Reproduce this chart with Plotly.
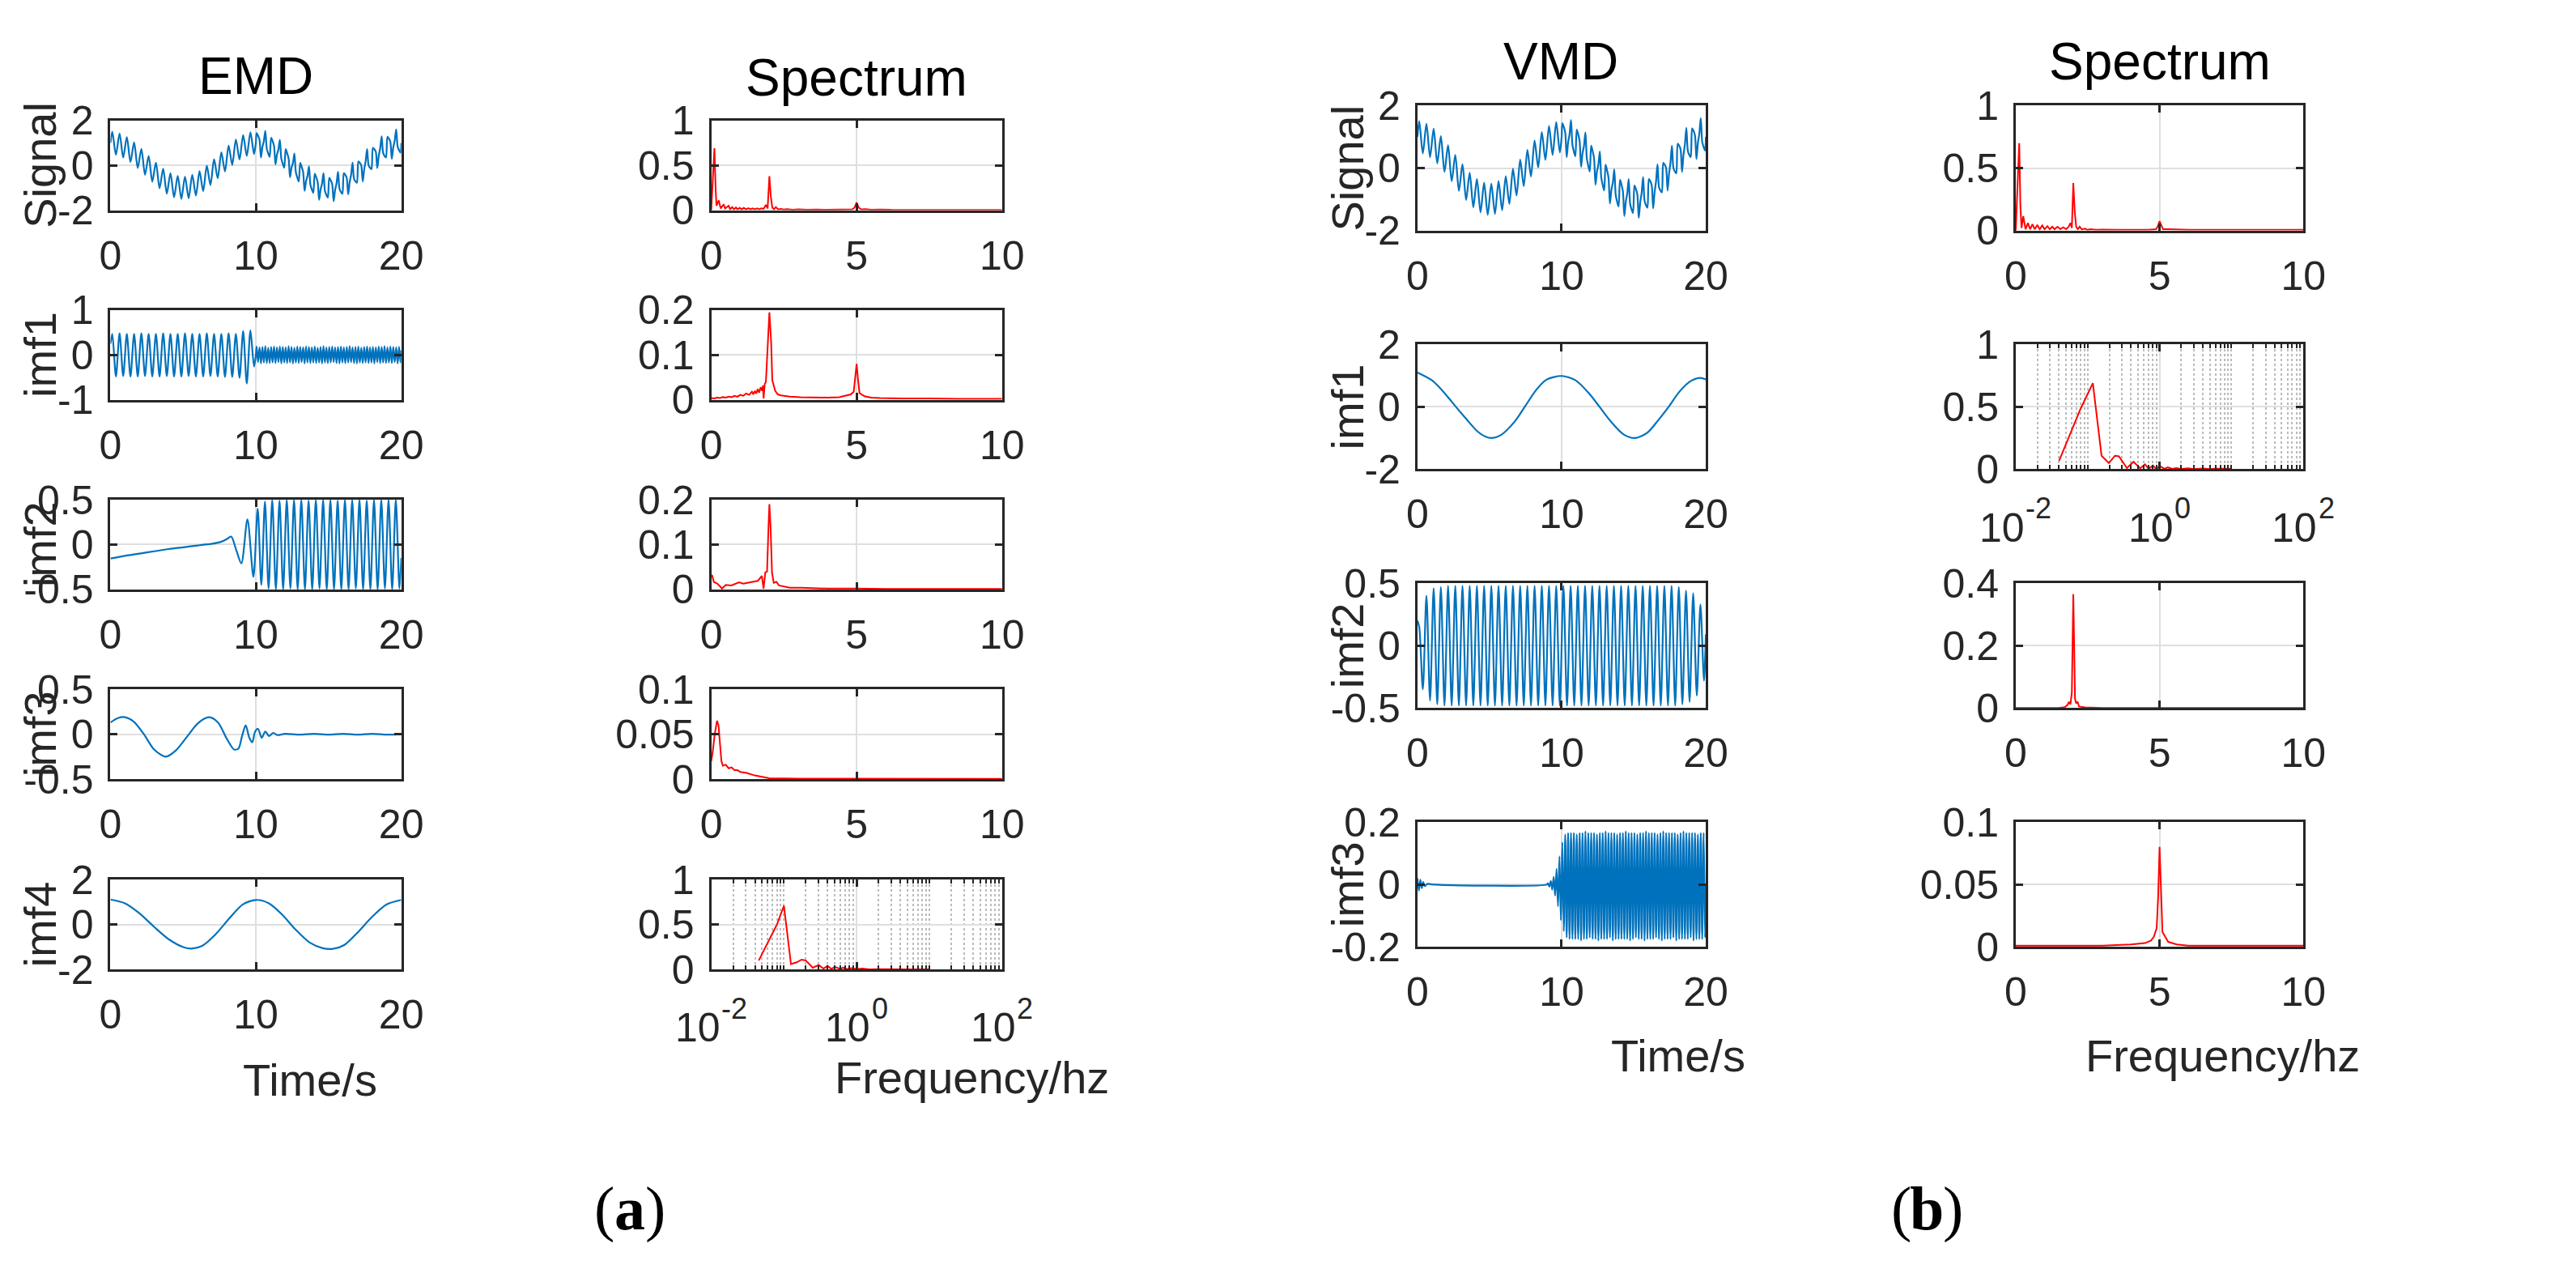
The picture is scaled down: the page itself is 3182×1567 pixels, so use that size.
import math
import plotly.graph_objects as go

# ============================ DATA ============================
# time grids (s)
T_0_10 = [0.0, 0.125, 0.375, 0.625, 0.875, 1.125, 1.375, 1.625, 1.875, 2.125, 2.375,
          2.625, 2.875, 3.125, 3.375, 3.625, 3.875, 4.125, 4.375, 4.625, 4.875,
          5.125, 5.375, 5.625, 5.875, 6.125, 6.375, 6.625, 6.875, 7.125, 7.375,
          7.625, 7.875, 8.125, 8.375, 8.625, 8.875, 9.125, 9.375, 9.625, 9.875]
T_10_20_2HZ = [10.125, 10.375, 10.625, 10.875, 11.125, 11.375, 11.625, 11.875, 12.125, 12.375,
               12.625, 12.875, 13.125, 13.375, 13.625, 13.875, 14.125, 14.375, 14.625, 14.875,
               15.125, 15.375, 15.625, 15.875, 16.125, 16.375, 16.625, 16.875, 17.125, 17.375,
               17.625, 17.875, 18.125, 18.375, 18.625, 18.875, 19.125, 19.375, 19.625, 19.875,
               20.0]
T_10_20_5HZ = [10.0,
               10.05, 10.15, 10.25, 10.35, 10.45, 10.55, 10.65, 10.75, 10.85, 10.95,
               11.05, 11.15, 11.25, 11.35, 11.45, 11.55, 11.65, 11.75, 11.85, 11.95,
               12.05, 12.15, 12.25, 12.35, 12.45, 12.55, 12.65, 12.75, 12.85, 12.95,
               13.05, 13.15, 13.25, 13.35, 13.45, 13.55, 13.65, 13.75, 13.85, 13.95,
               14.05, 14.15, 14.25, 14.35, 14.45, 14.55, 14.65, 14.75, 14.85, 14.95,
               15.05, 15.15, 15.25, 15.35, 15.45, 15.55, 15.65, 15.75, 15.85, 15.95,
               16.05, 16.15, 16.25, 16.35, 16.45, 16.55, 16.65, 16.75, 16.85, 16.95,
               17.05, 17.15, 17.25, 17.35, 17.45, 17.55, 17.65, 17.75, 17.85, 17.95,
               18.05, 18.15, 18.25, 18.35, 18.45, 18.55, 18.65, 18.75, 18.85, 18.95,
               19.05, 19.15, 19.25, 19.35, 19.45, 19.55, 19.65, 19.75, 19.85, 19.95,
               20.0]

# composite signal
SIG_0_10 = [1.00, 1.50, 0.47, 1.42, 0.35, 1.26, 0.15, 1.02, -0.12, 0.73, -0.42,
            0.42, -0.73, 0.12, -1.02, -0.15, -1.26, -0.35, -1.42, -0.47, -1.50,
            -0.50, -1.47, -0.42, -1.35, -0.26, -1.15, -0.02, -0.88, 0.27, -0.58,
            0.58, -0.27, 0.88, 0.02, 1.15, 0.26, 1.35, 0.42, 1.47, 0.50]
SIG_10_20 = [1.00,
             1.44, 1.32, 1.14, 0.35, 0.82, 1.08, 1.54, 0.74, 0.53, 0.38,
             1.23, 1.08, 0.86, 0.04, 0.47, 0.71, 1.14, 0.30, 0.07, -0.11,
             0.72, 0.54, 0.31, -0.53, -0.11, 0.11, 0.53, -0.31, -0.54, -0.72,
             0.11, -0.07, -0.30, -1.14, -0.71, -0.47, -0.04, -0.86, -1.08, -1.23,
             -0.38, -0.53, -0.74, -1.54, -1.08, -0.82, -0.35, -1.14, -1.32, -1.44,
             -0.56, -0.67, -0.84, -1.60, -1.10, -0.80, -0.29, -1.04, -1.19, -1.27,
             -0.35, -0.42, -0.56, -1.29, -0.76, -0.42, 0.12, -0.60, -0.72, -0.78,
             0.17, 0.11, -0.01, -0.72, -0.18, 0.18, 0.72, 0.01, -0.11, -0.17,
             0.78, 0.72, 0.60, -0.12, 0.42, 0.76, 1.29, 0.56, 0.42, 0.35,
             1.27, 1.19, 1.04, 0.29, 0.80, 1.10, 1.60, 0.84, 0.67, 0.56,
             1.00]

# EMD modes
EMD_IMF1_0_10 = [0.25,
                 0.47, -0.48, 0.48, -0.47, 0.47, -0.48, 0.47, -0.48, 0.48, -0.47,
                 0.47, -0.48, 0.47, -0.48, 0.48, -0.47, 0.47, -0.48, 0.47, -0.48,
                 0.48, -0.47, 0.47, -0.48, 0.47, -0.48, 0.48, -0.47, 0.47, -0.48,
                 0.47, -0.49, 0.48, -0.49, 0.47, -0.51, 0.53, -0.64, 0.55, -0.26]
EMD_IMF1_10_20 = [0.0,
                  0.19, -0.16, 0.17, -0.19, 0.18, -0.17, 0.20, -0.18, 0.16, -0.18,
                  0.18, -0.17, 0.19, -0.18, 0.17, -0.16, 0.19, -0.19, 0.18, -0.17,
                  0.17, -0.18, 0.20, -0.17, 0.18, -0.19, 0.16, -0.17, 0.19, -0.18,
                  0.18, -0.16, 0.17, -0.19, 0.19, -0.17, 0.18, -0.18, 0.17, -0.17,
                  0.19, -0.18, 0.16, -0.17, 0.18, -0.19, 0.20, -0.17, 0.17, -0.18,
                  0.18, -0.17, 0.19, -0.16, 0.17, -0.18, 0.18, -0.19, 0.19, -0.17,
                  0.17, -0.18, 0.18, -0.17, 0.20, -0.16, 0.17, -0.18, 0.18, -0.19,
                  0.19, -0.17, 0.16, -0.18, 0.18, -0.17, 0.19, -0.18, 0.17, -0.17,
                  0.18, -0.19, 0.17, -0.16, 0.19, -0.18, 0.18, -0.17, 0.20, -0.18,
                  0.17, -0.17, 0.19, -0.18, 0.18, -0.16, 0.17, -0.19, 0.18, -0.17,
                  0.10]
EMD_IMF2_TREND_T = [0.0, 1.0, 2.0, 3.0, 4.0, 5.0, 6.0, 7.0, 7.6, 8.0, 8.3, 8.65, 9.0, 9.42, 9.83]
EMD_IMF2_TREND_V = [-0.155, -0.125, -0.10, -0.075, -0.05, -0.03, -0.01, 0.01, 0.03, 0.06,
                    0.09, -0.06, -0.21, 0.28, -0.36]
EMD_IMF2_10_20 = [0.40, -0.45, 0.48, -0.49, 0.50, -0.50, 0.49, -0.50, 0.50, -0.49,
                  0.50, -0.50, 0.50, -0.50, 0.49, -0.50, 0.50, -0.49, 0.50, -0.50,
                  0.50, -0.50, 0.49, -0.50, 0.50, -0.50, 0.50, -0.49, 0.50, -0.50,
                  0.49, -0.50, 0.50, -0.50, 0.50, -0.49, 0.50, -0.50, 0.50, -0.49,
                  -0.15]
EMD_IMF3_T = [0.0, 0.5, 1.0, 1.6, 2.3, 3.0, 3.8, 4.5, 5.3, 6.0, 6.8, 7.4, 8.0, 8.5, 8.8,
              9.05, 9.3, 9.55, 9.75, 9.95, 10.15, 10.4, 10.65, 10.9, 11.2, 11.5, 12.0,
              13.0, 14.0, 15.0, 16.0, 17.0, 18.0, 19.0, 20.0]
EMD_IMF3_V = [0.13, 0.18, 0.19, 0.14, 0.0, -0.17, -0.25, -0.18, -0.02, 0.12, 0.19, 0.13,
              -0.05, -0.17, -0.16, -0.02, 0.10, -0.04, -0.09, 0.03, 0.06, -0.04, 0.03,
              -0.02, 0.015, -0.01, 0.005, -0.005, 0.005, -0.005, 0.005, -0.005, 0.005,
              -0.005, 0.0]
EMD_IMF4_T = [0.0, 1.0, 2.0, 3.0, 4.0, 5.0, 5.6, 6.3, 7.2, 8.2, 9.1, 10.0, 10.9, 11.8,
              12.7, 13.7, 14.6, 15.3, 16.1, 17.0, 18.0, 19.0, 20.0]
EMD_IMF4_V = [1.12, 0.95, 0.5, -0.1, -0.65, -1.0, -1.07, -0.95, -0.45, 0.3, 0.9, 1.1,
              0.95, 0.45, -0.2, -0.8, -1.05, -1.08, -0.9, -0.35, 0.35, 0.9, 1.1]

# VMD modes
VMD_IMF1_T = [0.0, 1.01, 1.57, 2.12, 2.67, 3.41, 4.15, 4.7, 5.16, 5.8, 6.73, 7.47, 8.2,
              8.94, 10.0, 10.97, 11.9, 12.63, 13.36, 14.29, 15.1, 15.94, 16.68, 17.42,
              18.16, 18.9, 19.6, 20.0]
VMD_IMF1_V = [1.1, 0.85, 0.6, 0.31, 0.0, -0.4, -0.78, -0.95, -1.0, -0.9, -0.48, 0.02,
              0.52, 0.87, 0.99, 0.85, 0.43, 0.0, -0.44, -0.88, -1.0, -0.83, -0.44, 0.0,
              0.48, 0.81, 0.93, 0.88]
VMD_IMF2_0_10 = [0.20, 0.15, -0.35, 0.40, -0.44, 0.46, -0.47, 0.47, -0.48, 0.48,
                 -0.48, 0.48, -0.48, 0.48, -0.48, 0.48, -0.48, 0.48, -0.48, 0.48,
                 -0.48, 0.48, -0.48, 0.48, -0.48, 0.48, -0.48, 0.48, -0.48, 0.48,
                 -0.48, 0.48, -0.48, 0.48, -0.48, 0.48, -0.48, 0.48, -0.48, 0.48,
                 -0.48]
VMD_IMF2_10_20 = [0.48, -0.48, 0.48, -0.48, 0.48, -0.48, 0.48, -0.48, 0.48, -0.48,
                  0.48, -0.48, 0.48, -0.48, 0.48, -0.48, 0.48, -0.48, 0.48, -0.48,
                  0.48, -0.48, 0.48, -0.48, 0.48, -0.48, 0.48, -0.48, 0.48, -0.48,
                  0.48, -0.48, 0.47, -0.47, 0.44, -0.45, 0.42, -0.40, 0.33, -0.28,
                  0.09]
VMD_IMF3_PRE_T = [0.0, 0.1, 0.2, 0.3, 0.4, 0.5, 0.7, 1.0, 9.0,
                  9.05, 9.15, 9.25, 9.35, 9.45, 9.55, 9.65, 9.75, 9.85, 9.95]
VMD_IMF3_PRE_V = [0.02, -0.02, 0.015, -0.012, 0.008, -0.005, 0.002, 0.0, 0.0,
                  0.004, -0.007, 0.011, -0.017, 0.025, -0.036, 0.05, -0.07, 0.09, -0.115]
VMD_IMF3_10_20 = [0.0,
                  0.135, -0.15, 0.16, -0.17, 0.165, -0.175, 0.165, -0.175, 0.165, -0.175,
                  0.16, -0.175, 0.165, -0.18, 0.165, -0.175, 0.17, -0.175, 0.165, -0.17,
                  0.165, -0.175, 0.165, -0.175, 0.16, -0.18, 0.165, -0.175, 0.165, -0.175,
                  0.17, -0.175, 0.165, -0.17, 0.165, -0.18, 0.165, -0.175, 0.16, -0.175,
                  0.165, -0.175, 0.165, -0.175, 0.17, -0.175, 0.165, -0.18, 0.165, -0.175,
                  0.165, -0.17, 0.16, -0.175, 0.165, -0.175, 0.165, -0.18, 0.17, -0.175,
                  0.165, -0.175, 0.165, -0.175, 0.165, -0.17, 0.16, -0.175, 0.165, -0.18,
                  0.17, -0.175, 0.165, -0.175, 0.165, -0.175, 0.165, -0.17, 0.165, -0.18,
                  0.16, -0.175, 0.165, -0.175, 0.17, -0.175, 0.165, -0.175, 0.165, -0.17,
                  0.165, -0.18, 0.165, -0.175, 0.16, -0.175, 0.165, -0.175, 0.165, -0.17,
                  0.0]

# spectra (frequency in Hz, amplitude)
EMD_SPEC_SIG_F = [0.0, 0.05, 0.11, 0.15, 0.18, 0.22, 0.26, 0.30, 0.33, 0.39, 0.43, 0.48,
                  0.55, 0.60, 0.65, 0.72, 0.78, 0.85, 0.90, 0.98, 1.05, 1.12, 1.20, 1.28,
                  1.35, 1.42, 1.50, 1.58, 1.65, 1.72, 1.80, 1.88, 1.94, 2.00, 2.05, 2.10,
                  2.16, 2.22, 2.30, 2.40, 2.50, 2.60, 2.80, 3.00, 3.30, 3.60, 4.00, 4.50,
                  4.85, 4.93, 5.00, 5.07, 5.15, 5.30, 5.50, 5.80, 6.20, 7.00, 8.00, 9.00, 10.0]
EMD_SPEC_SIG_A = [0.0, 0.28, 0.69, 0.25, 0.05, 0.08, 0.11, 0.05, 0.02, 0.05, 0.06, 0.02,
                  0.04, 0.05, 0.01, 0.035, 0.01, 0.03, 0.01, 0.025, 0.01, 0.025, 0.01, 0.022,
                  0.01, 0.02, 0.01, 0.02, 0.01, 0.02, 0.015, 0.06, 0.02, 0.38, 0.15, 0.03,
                  0.01, 0.035, 0.01, 0.015, 0.008, 0.012, 0.006, 0.01, 0.005, 0.008, 0.004, 0.006,
                  0.01, 0.03, 0.085, 0.03, 0.01, 0.012, 0.006, 0.008, 0.004, 0.003, 0.003, 0.002, 0.002]
EMD_SPEC_IMF1_F = [0.0, 0.1, 0.2, 0.3, 0.4, 0.5, 0.6, 0.7, 0.8, 0.9, 1.0, 1.1, 1.2, 1.3, 1.4,
                   1.45, 1.5, 1.55, 1.6, 1.65, 1.7, 1.75, 1.78, 1.80, 1.84, 1.88, 1.95, 2.00,
                   2.06, 2.10, 2.20, 2.29, 2.40, 2.52, 2.70, 3.07, 3.50, 3.98, 4.40, 4.80,
                   4.90, 4.95, 5.00, 5.05, 5.10, 5.27, 5.50, 5.80, 6.50, 7.50, 8.50, 10.0]
EMD_SPEC_IMF1_A = [0.004, 0.003, 0.005, 0.004, 0.006, 0.005, 0.007, 0.006, 0.009, 0.007,
                   0.011, 0.009, 0.014, 0.011, 0.018, 0.012, 0.02, 0.014, 0.024, 0.016,
                   0.028, 0.02, 0.032, 0.003, 0.035, 0.04, 0.13, 0.195, 0.13, 0.044,
                   0.02, 0.012, 0.01, 0.009, 0.007, 0.006, 0.005, 0.005, 0.006, 0.012,
                   0.018, 0.044, 0.08, 0.044, 0.015, 0.008, 0.005, 0.004, 0.003, 0.003,
                   0.002, 0.002]
EMD_SPEC_IMF2_F = [0.0, 0.03, 0.09, 0.23, 0.37, 0.5, 0.69, 0.8, 0.96, 1.1, 1.24, 1.42, 1.6,
                   1.74, 1.80, 1.86, 1.92, 1.97, 2.00, 2.04, 2.09, 2.15, 2.24, 2.33, 2.52,
                   2.7, 3.07, 3.5, 3.98, 5.0, 6.0, 8.0, 10.0]
EMD_SPEC_IMF2_A = [0.03, 0.032, 0.017, 0.012, 0.002, 0.01, 0.009, 0.012, 0.016, 0.013, 0.015,
                   0.017, 0.019, 0.03, 0.002, 0.038, 0.04, 0.14, 0.19, 0.14, 0.038, 0.015,
                   0.017, 0.009, 0.006, 0.004, 0.004, 0.003, 0.002, 0.002, 0.001, 0.001, 0.001]
EMD_SPEC_IMF3_F = [0.0, 0.05, 0.12, 0.2, 0.25, 0.3, 0.35, 0.4, 0.5, 0.6, 0.7, 0.8, 0.9, 1.0,
                   1.2, 1.5, 1.8, 2.0, 3.0, 5.0, 7.0, 10.0]
EMD_SPEC_IMF3_A = [0.02, 0.03, 0.05, 0.065, 0.06, 0.04, 0.02, 0.015, 0.016, 0.012, 0.013,
                   0.01, 0.01, 0.008, 0.007, 0.004, 0.002, 0.001, 0.0005, 0.0003, 0.0002, 0.0002]
EMD_SPEC_IMF4_F = [0.045, 0.06, 0.08, 0.10, 0.125, 0.15, 0.175, 0.2, 0.25, 0.3, 0.35, 0.4,
                   0.45, 0.5, 0.6, 0.65, 0.75, 0.85, 1.0, 1.2, 1.5, 2.0, 3.0, 5.0, 10.0]
EMD_SPEC_IMF4_A = [0.10, 0.30, 0.50, 0.71, 0.06, 0.08, 0.11, 0.10, 0.02, 0.05, 0.01, 0.04,
                   0.005, 0.03, 0.004, 0.02, 0.003, 0.015, 0.003, 0.01, 0.002, 0.004, 0.001,
                   0.002, 0.001]

VMD_SPEC_SIG_F = [0.0, 0.05, 0.12, 0.16, 0.20, 0.26, 0.34, 0.42, 0.50, 0.58, 0.66, 0.75,
                  0.83, 0.92, 1.00, 1.10, 1.18, 1.27, 1.35, 1.45, 1.55, 1.65, 1.75, 1.84,
                  1.90, 1.95, 2.00, 2.05, 2.10, 2.16, 2.22, 2.30, 2.40, 2.50, 2.60, 2.80,
                  3.00, 3.50, 4.00, 4.60, 4.88, 4.95, 5.00, 5.06, 5.12, 5.30, 5.60, 6.00,
                  7.00, 8.00, 9.00, 10.0]
VMD_SPEC_SIG_A = [0.0, 0.30, 0.70, 0.20, 0.02, 0.115, 0.01, 0.06, 0.01, 0.05, 0.01, 0.045,
                  0.01, 0.04, 0.01, 0.035, 0.01, 0.03, 0.01, 0.03, 0.01, 0.025, 0.01, 0.03,
                  0.06, 0.02, 0.38, 0.15, 0.03, 0.01, 0.03, 0.008, 0.015, 0.005, 0.01, 0.006,
                  0.008, 0.005, 0.005, 0.006, 0.01, 0.04, 0.075, 0.04, 0.01, 0.01, 0.008, 0.006,
                  0.006, 0.006, 0.006, 0.006]
VMD_SPEC_IMF1_F = [0.040, 0.079, 0.118, 0.156, 0.197, 0.239, 0.272, 0.351, 0.434, 0.537,
                   0.627, 0.705, 0.809, 0.89, 1.02, 1.16, 1.3, 1.5, 1.7, 2.0, 2.5, 3.0,
                   4.0, 5.0, 6.0, 8.0, 10.0]
VMD_SPEC_IMF1_A = [0.067, 0.48, 0.69, 0.108, 0.05, 0.108, 0.104, 0.01, 0.06, 0.008, 0.04,
                   0.004, 0.03, 0.004, 0.025, 0.004, 0.015, 0.004, 0.01, 0.003, 0.008, 0.002,
                   0.006, 0.002, 0.005, 0.002, 0.004]
VMD_SPEC_IMF2_F = [0.0, 1.5, 1.7, 1.8, 1.85, 1.9, 1.95, 2.0, 2.03, 2.06, 2.1, 2.15, 2.2,
                   2.4, 3.0, 10.0]
VMD_SPEC_IMF2_A = [0.0, 0.0, 0.003, 0.01, 0.02, 0.012, 0.05, 0.365, 0.2, 0.03, 0.015, 0.02,
                   0.005, 0.002, 0.0, 0.0]
VMD_SPEC_IMF3_F = [0.0, 1.0, 2.0, 3.0, 4.0, 4.5, 4.7, 4.8, 4.9, 4.95, 5.0, 5.05, 5.1, 5.2,
                   5.3, 5.6, 6.0, 10.0]
VMD_SPEC_IMF3_A = [0.001, 0.001, 0.001, 0.001, 0.002, 0.003, 0.005, 0.008, 0.015, 0.04,
                   0.08, 0.04, 0.012, 0.008, 0.004, 0.002, 0.001, 0.001]

# tick labels
TIME_TICKS, TIME_TEXT = [0, 10, 20], ['0', '10', '20']
FREQ_TICKS, FREQ_TEXT = [0, 5, 10], ['0', '5', '10']
LOG_TICKS = [0.01, 1, 100]
LOG_BASE_TEXT = ['10', '10', '10']
LOG_EXP_TEXT = ['-2', '0', '2']
Y2, Y2_T = [-2, 0, 2], ['-2', '0', '2']
Y1, Y1_T = [-1, 0, 1], ['-1', '0', '1']
Y05, Y05_T = [-0.5, 0, 0.5], ['-0.5', '0', '0.5']
Y02, Y02_T = [-0.2, 0, 0.2], ['-0.2', '0', '0.2']
S1, S1_T = [0, 0.5, 1], ['0', '0.5', '1']
S02, S02_T = [0, 0.1, 0.2], ['0', '0.1', '0.2']
S01, S01_T = [0, 0.05, 0.1], ['0', '0.05', '0.1']
S04, S04_T = [0, 0.2, 0.4], ['0', '0.2', '0.4']

ROW_LABELS_EMD = ['Signal', 'imf1', 'imf2', 'imf3', 'imf4']
ROW_LABELS_VMD = ['Signal', 'imf1', 'imf2', 'imf3']

# ============================ STYLE / GEOMETRY ============================
W, H = 3182, 1567
BLUE, RED = '#0072BD', '#FF0000'
AX = '#262626'
GRID = '#DFDFDF'
MINOR_GRID = '#BBBBBB'
SANS = 'Liberation Sans, Arial, Helvetica, sans-serif'
SERIF = 'Liberation Serif, Times New Roman, serif'
TICK_SIZE = 50
EXP_SIZE = 36

EMD_TIME_X, EMD_SPEC_X = (116, 480), (868, 1232)
EMD_ROWS = [(117, 232), (360, 475), (603, 718), (846, 961), (1090, 1205)]
VMD_TIME_X, VMD_SPEC_X = (1752, 2113), (2501, 2861)
VMD_ROWS = [(98, 258), (404, 564), (710, 870), (1016, 1176)]

panels = [
    # EMD time-domain column
    dict(x=T_0_10 + T_10_20_5HZ, y=SIG_0_10 + SIG_10_20, c=BLUE, col=EMD_TIME_X, row=EMD_ROWS[0], kind='time', yt=(Y2, Y2_T)),
    dict(x=T_0_10 + T_10_20_5HZ, y=EMD_IMF1_0_10 + EMD_IMF1_10_20, c=BLUE, col=EMD_TIME_X, row=EMD_ROWS[1], kind='time', yt=(Y1, Y1_T)),
    dict(x=EMD_IMF2_TREND_T + T_10_20_2HZ, y=EMD_IMF2_TREND_V + EMD_IMF2_10_20, c=BLUE, col=EMD_TIME_X, row=EMD_ROWS[2], kind='time', yt=(Y05, Y05_T)),
    dict(x=EMD_IMF3_T, y=EMD_IMF3_V, c=BLUE, col=EMD_TIME_X, row=EMD_ROWS[3], kind='time', yt=(Y05, Y05_T)),
    dict(x=EMD_IMF4_T, y=EMD_IMF4_V, c=BLUE, col=EMD_TIME_X, row=EMD_ROWS[4], kind='time', yt=(Y2, Y2_T)),
    # EMD spectra
    dict(x=EMD_SPEC_SIG_F, y=EMD_SPEC_SIG_A, c=RED, col=EMD_SPEC_X, row=EMD_ROWS[0], kind='freq', yt=(S1, S1_T)),
    dict(x=EMD_SPEC_IMF1_F, y=EMD_SPEC_IMF1_A, c=RED, col=EMD_SPEC_X, row=EMD_ROWS[1], kind='freq', yt=(S02, S02_T)),
    dict(x=EMD_SPEC_IMF2_F, y=EMD_SPEC_IMF2_A, c=RED, col=EMD_SPEC_X, row=EMD_ROWS[2], kind='freq', yt=(S02, S02_T)),
    dict(x=EMD_SPEC_IMF3_F, y=EMD_SPEC_IMF3_A, c=RED, col=EMD_SPEC_X, row=EMD_ROWS[3], kind='freq', yt=(S01, S01_T)),
    dict(x=EMD_SPEC_IMF4_F, y=EMD_SPEC_IMF4_A, c=RED, col=EMD_SPEC_X, row=EMD_ROWS[4], kind='log', yt=(S1, S1_T)),
    # VMD time-domain column
    dict(x=T_0_10 + T_10_20_5HZ, y=SIG_0_10 + SIG_10_20, c=BLUE, col=VMD_TIME_X, row=VMD_ROWS[0], kind='time', yt=(Y2, Y2_T)),
    dict(x=VMD_IMF1_T, y=VMD_IMF1_V, c=BLUE, col=VMD_TIME_X, row=VMD_ROWS[1], kind='time', yt=(Y2, Y2_T)),
    dict(x=T_0_10 + T_10_20_2HZ, y=VMD_IMF2_0_10 + VMD_IMF2_10_20, c=BLUE, col=VMD_TIME_X, row=VMD_ROWS[2], kind='time', yt=(Y05, Y05_T)),
    dict(x=VMD_IMF3_PRE_T + T_10_20_5HZ, y=VMD_IMF3_PRE_V + VMD_IMF3_10_20, c=BLUE, col=VMD_TIME_X, row=VMD_ROWS[3], kind='time', yt=(Y02, Y02_T)),
    # VMD spectra
    dict(x=VMD_SPEC_SIG_F, y=VMD_SPEC_SIG_A, c=RED, col=VMD_SPEC_X, row=VMD_ROWS[0], kind='freq', yt=(S1, S1_T)),
    dict(x=VMD_SPEC_IMF1_F, y=VMD_SPEC_IMF1_A, c=RED, col=VMD_SPEC_X, row=VMD_ROWS[1], kind='log', yt=(S1, S1_T)),
    dict(x=VMD_SPEC_IMF2_F, y=VMD_SPEC_IMF2_A, c=RED, col=VMD_SPEC_X, row=VMD_ROWS[2], kind='freq', yt=(S04, S04_T)),
    dict(x=VMD_SPEC_IMF3_F, y=VMD_SPEC_IMF3_A, c=RED, col=VMD_SPEC_X, row=VMD_ROWS[3], kind='freq', yt=(S01, S01_T)),
]

MINOR_LOG = [d * 10.0 ** e for e in (-2, -1, 0, 1) for d in range(1, 10)
             if not (d == 1 and e in (-2, 0))]

common = dict(showline=True, linecolor=AX, linewidth=3, mirror='ticks',
              ticks='inside', ticklen=9, tickwidth=3, tickcolor=AX,
              showgrid=True, gridcolor=GRID, gridwidth=2, zeroline=False,
              fixedrange=True, tickmode='array',
              tickfont=dict(family=SANS, size=TICK_SIZE, color=AX))


def ann(text, px, py, size, family=SANS, color='#000000', angle=0, weight='normal'):
    return dict(text=text, x=px / W, y=1 - py / H, xref='paper', yref='paper',
                xanchor='center', yanchor='middle', showarrow=False, textangle=angle,
                font=dict(family=family, size=size, color=color, weight=weight))


annotations = []
fig = go.Figure()
layout = {}
for i, p in enumerate(panels, start=1):
    xr = 'x' if i == 1 else f'x{i}'
    yr = 'y' if i == 1 else f'y{i}'
    time_like = p['kind'] == 'time'
    fig.add_trace(go.Scatter(
        x=p['x'], y=p['y'], mode='lines', xaxis=xr, yaxis=yr, showlegend=False,
        hoverinfo='skip',
        line=dict(color=p['c'], width=2.2 if time_like else 2,
                  shape='spline' if time_like else 'linear', smoothing=0.8)))
    x0, x1 = p['col']
    y0, y1 = p['row']
    xa = dict(common, domain=[x0 / W, x1 / W], anchor=yr, ticklabelstandoff=10)
    if p['kind'] == 'time':
        xa.update(range=[0, 20], tickvals=TIME_TICKS, ticktext=TIME_TEXT)
    elif p['kind'] == 'freq':
        xa.update(range=[0, 10], tickvals=FREQ_TICKS, ticktext=FREQ_TEXT)
    else:
        xa.update(type='log', range=[-2, 2], tickvals=LOG_TICKS,
                  ticktext=['' for _ in LOG_TICKS],
                  minor=dict(tickmode='array', tickvals=MINOR_LOG, ticks='inside', ticklen=5,
                             tickwidth=2, tickcolor=AX, showgrid=True,
                             gridcolor=MINOR_GRID, griddash='dot', gridwidth=2))
        # power-of-ten labels: base "10" with a raised, smaller exponent
        for v, base, ex in zip(LOG_TICKS, LOG_BASE_TEXT, LOG_EXP_TEXT):
            tick_px = x0 + (math.log10(v) + 2) / 4 * (x1 - x0)
            wb = 1.112 * TICK_SIZE
            we = (0.889 if ex.startswith('-') else 0.556) * EXP_SIZE
            left = tick_px - (wb + 2 + we) / 2
            annotations.append(ann(base, left + wb / 2, y1 + 75, TICK_SIZE, color=AX))
            annotations.append(ann(ex, left + wb + 2 + we / 2, y1 + 50, EXP_SIZE, color=AX))
    ya = dict(common, domain=[1 - y1 / H, 1 - y0 / H], anchor=xr, ticklabelstandoff=8,
              range=[p['yt'][0][0], p['yt'][0][-1]], tickvals=p['yt'][0], ticktext=p['yt'][1])
    layout['xaxis' if i == 1 else f'xaxis{i}'] = xa
    layout['yaxis' if i == 1 else f'yaxis{i}'] = ya

annotations += [
    ann('EMD', 298, 60, 64),
    ann('Spectrum', 1050, 62, 64),
    ann('VMD', 1932, 42, 64),
    ann('Spectrum', 2681, 42, 64),
    ann('Time/s', 366, 1346, 56, color=AX),
    ann('Frequency/hz', 1194, 1343, 56, color=AX),
    ann('Time/s', 2078, 1315, 56, color=AX),
    ann('Frequency/hz', 2760, 1315, 56, color=AX),
]
# sub-figure captions: "(" + bold letter + ")"
for letter, cx in (('a', 766), ('b', 2390)):
    annotations.append(ann('(', cx - 32, 1511, 76, family=SERIF))
    annotations.append(ann(letter, cx, 1511, 76, family=SERIF, weight='bold'))
    annotations.append(ann(')', cx + 32, 1511, 76, family=SERIF))
for lab, (r0, r1) in zip(ROW_LABELS_EMD, EMD_ROWS):
    annotations.append(ann(lab, 28, (r0 + r1) / 2, 56, color=AX, angle=-90))
for lab, (r0, r1) in zip(ROW_LABELS_VMD, VMD_ROWS):
    annotations.append(ann(lab, 1664, (r0 + r1) / 2, 56, color=AX, angle=-90))

fig.update_layout(width=W, height=H, autosize=False,
                  margin=dict(l=0, r=0, t=0, b=0),
                  paper_bgcolor='white', plot_bgcolor='white',
                  annotations=annotations, **layout)
fig.write_html("out.html", config={'displayModeBar': False})
